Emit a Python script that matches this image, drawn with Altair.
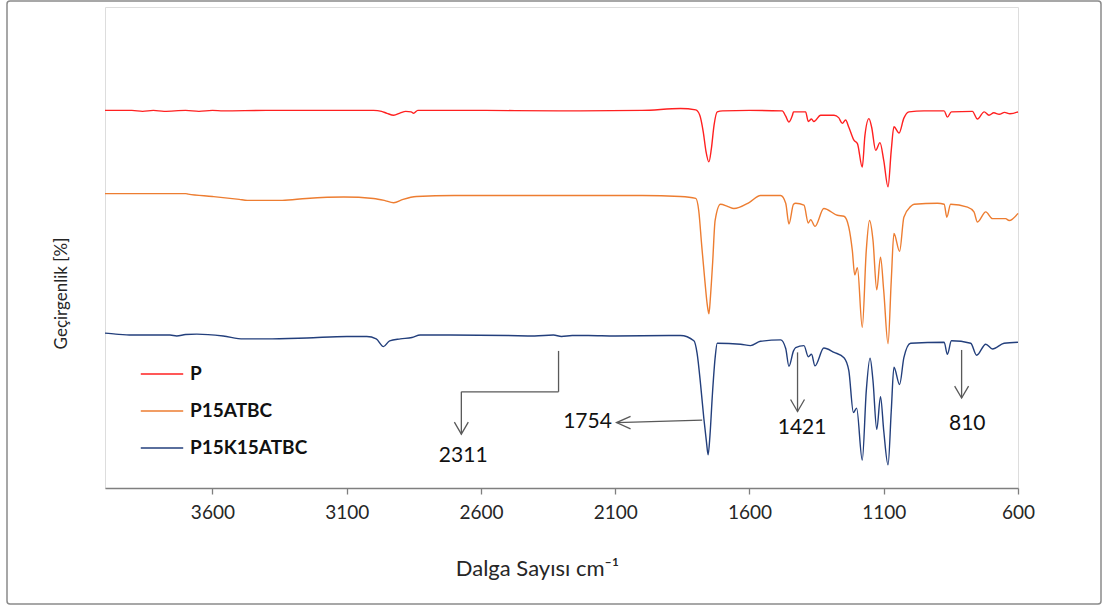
import altair as alt
import pandas as pd

# FTIR spectra (transmittance, vertically offset per sample)
P_WN = [4000, 3900, 3860, 3820, 3780, 3700, 3650, 3600, 3560, 3400, 3000, 2970, 2950, 2925,
        2900, 2880, 2860, 2851, 2835, 2600, 2311, 2000, 1857, 1800, 1785, 1772, 1762, 1751,
        1742, 1732, 1720, 1700, 1600, 1478, 1465, 1453, 1440, 1436, 1391, 1381, 1369, 1360,
        1335, 1285, 1268, 1254, 1242, 1230, 1211, 1198, 1180, 1170, 1155, 1145, 1130, 1114,
        1100, 1084, 1072, 1062, 1043, 1025, 1006, 950, 875, 863, 848, 770, 751, 726, 708,
        690, 670, 650, 630, 600]
P_T = [78.5, 78.5, 78.3, 78.5, 78.3, 78.5, 78.3, 78.5, 78.4, 78.5, 78.5, 78.3, 77.9, 77.5,
       78.0, 78.3, 78.2, 77.9, 78.5, 78.5, 78.4, 78.5, 78.9, 78.6, 77.5, 74.0, 70.0, 67.8,
       70.5, 75.4, 78.2, 78.4, 78.5, 78.4, 77.3, 76.1, 77.5, 78.2, 78.2, 76.2, 76.7, 76.2,
       77.5, 77.5, 77.0, 75.8, 76.5, 75.0, 72.3, 71.6, 66.7, 73.3, 76.8, 75.0, 70.2, 71.8,
       68.1, 62.6, 70.2, 75.1, 73.8, 76.9, 78.2, 78.4, 78.4, 77.1, 78.2, 78.3, 76.7, 78.2,
       77.5, 78.0, 77.7, 78.1, 77.8, 78.2]

A_WN = [4000, 3700, 3690, 3600, 3500, 3470, 3340, 3250, 3110, 3000, 2960, 2925, 2890, 2840,
        2700, 2311, 2000, 1857, 1800, 1789, 1778, 1766, 1757, 1751, 1745, 1737, 1728, 1708,
        1680, 1658, 1600, 1559, 1484, 1465, 1453, 1436, 1428, 1397, 1381, 1372, 1356, 1323,
        1273, 1248, 1230, 1217, 1208, 1198, 1180, 1165, 1153, 1140, 1126, 1112, 1100, 1084,
        1072, 1062, 1041, 1025, 1000, 987, 900, 875, 865, 851, 788, 764, 751, 720, 695, 646,
        633, 600]
A_T = [61.2, 61.2, 61.1, 60.6, 60.0, 59.8, 59.8, 60.2, 60.5, 60.2, 59.8, 59.3, 60.0, 60.6,
       60.8, 60.8, 60.8, 60.6, 60.2, 57.7, 50.5, 43.0, 38.0, 36.2, 40.0, 47.0, 55.6, 59.0,
       58.5, 58.1, 59.4, 60.8, 60.8, 59.2, 54.9, 59.0, 59.2, 58.8, 55.1, 55.8, 54.4, 58.1,
       56.7, 56.5, 54.2, 49.4, 44.3, 45.8, 33.4, 49.4, 55.6, 51.5, 41.2, 48.0, 41.0, 30.0,
       43.1, 52.9, 49.2, 56.3, 58.5, 59.0, 59.2, 59.0, 56.3, 59.0, 58.4, 57.4, 55.3, 57.4,
       56.0, 56.0, 55.6, 57.1]

K_WN = [4000, 3960, 3900, 3758, 3733, 3700, 3658, 3560, 3485, 3400, 3248, 3099, 3025, 2990,
        2963, 2940, 2900, 2857, 2826, 2714, 2500, 2400, 2330, 2300, 2260, 2200, 2100, 1900,
        1857, 1807, 1795, 1782, 1770, 1760, 1754, 1747, 1738, 1728, 1720, 1633, 1596, 1559,
        1484, 1465, 1453, 1436, 1428, 1397, 1381, 1369, 1356, 1323, 1285, 1248, 1230, 1213,
        1201, 1180, 1165, 1151, 1140, 1126, 1112, 1100, 1084, 1072, 1062, 1041, 1025, 1000,
        875, 863, 848, 776, 754, 720, 695, 652, 600]
K_T = [32.2, 32.0, 31.8, 31.8, 31.6, 31.9, 32.0, 31.6, 31.0, 31.0, 31.2, 31.5, 31.5, 31.0,
       29.4, 30.6, 31.0, 31.3, 31.8, 31.8, 31.7, 31.6, 31.8, 31.5, 31.7, 31.7, 31.6, 31.7,
       31.7, 30.6, 28.0, 21.5, 14.5, 9.5, 6.9, 11.0, 19.5, 27.0, 30.1, 29.9, 29.6, 30.5,
       30.8, 29.0, 25.3, 28.5, 29.2, 29.6, 27.3, 27.8, 25.4, 29.1, 28.2, 27.1, 24.4, 15.7,
       16.6, 5.8, 20.2, 27.0, 22.3, 12.2, 19.0, 11.9, 4.8, 16.0, 25.1, 21.5, 27.1, 30.1,
       30.3, 27.8, 30.6, 30.1, 27.6, 29.9, 28.9, 30.1, 30.3]

SERIES = ["P", "P15ATBC", "P15K15ATBC"]
COLORS = ["#ff2020", "#ed7d31", "#233f7c"]

# Band annotations: labelled wavenumber, arrow path (wn, T) and label anchor
BAND_LABELS = ["2311", "1754", "1421", "810"]
BAND_PATH_WN = [[2311, 2311, 2673, 2673], [1776, 2095], [1421, 1421], [810, 810]]
BAND_PATH_T = [[28.5, 20.0, 20.0, 11.2], [14.1, 13.6], [28.2, 15.9], [28.7, 18.7]]
LABEL_WN = [2666, 2203, 1404, 789]
LABEL_T = [6.7, 13.75, 12.4, 13.3]

FONT = "Lato"
GREY = "#7f7f7f"
ARROW = "#595959"

rows = []
for name, wn, t in zip(SERIES, [P_WN, A_WN, K_WN], [P_T, A_T, K_T]):
    for w, v in zip(wn, t):
        rows.append({"seri": name, "wn": w, "T": v})
spec = pd.DataFrame(rows)

seg_rows = []
head_rows = []
for lab, pw, pt in zip(BAND_LABELS, BAND_PATH_WN, BAND_PATH_T):
    for i in range(len(pw) - 1):
        seg_rows.append({"band": lab, "x": pw[i], "x2": pw[i + 1], "y": pt[i], "y2": pt[i + 1]})
    head_rows.append({"band": lab, "x": pw[-1], "y": pt[-1],
                      "dir": "down" if pw[-1] == pw[-2] else "left"})
segs = pd.DataFrame(seg_rows)
heads = pd.DataFrame(head_rows)
labels = pd.DataFrame({"band": BAND_LABELS, "x": LABEL_WN, "y": LABEL_T})

xscale = alt.Scale(domain=[600, 4000], reverse=True, nice=False, zero=False)
yscale = alt.Scale(domain=[0, 100], nice=False, zero=False)

lines = alt.Chart(spec).mark_line(strokeWidth=1.4, interpolate="monotone").encode(
    x=alt.X("wn:Q", scale=xscale, title="Dalga Sayısı cm⁻¹",
            axis=alt.Axis(values=[3600, 3100, 2600, 2100, 1600, 1100, 600], format="d",
                          grid=False, tickSize=6, tickColor=GREY, domainColor=GREY,
                          domainWidth=1.3, tickWidth=1.3, labelFont=FONT, labelFontSize=19,
                          labelColor="#262626", labelPadding=9, labelFlush=False,
                          titleFont=FONT, titleFontSize=22, titleFontWeight="normal",
                          titleColor="#262626", titleX=432, titleY=80,
                          titleBaseline="middle")),
    y=alt.Y("T:Q", scale=yscale, title="Geçirgenlik [%]",
            axis=alt.Axis(domain=False, ticks=False, labels=False, grid=False,
                          titleFont=FONT, titleFontSize=17, titleFontWeight="normal",
                          titleColor="#262626", titleX=-44, titleY=286,
                          titleBaseline="middle")),
    color=alt.Color("seri:N", scale=alt.Scale(domain=SERIES, range=COLORS), title=None,
                    legend=alt.Legend(orient="none", legendX=35, legendY=345,
                                      symbolType="stroke", symbolSize=1800,
                                      symbolStrokeWidth=1.5, labelFont=FONT,
                                      labelFontSize=19, labelFontWeight="bold",
                                      labelColor="#111111", rowPadding=5,
                                      labelOffset=6, padding=0)),
)

arrows = alt.Chart(segs).mark_rule(color=ARROW, strokeWidth=1.3).encode(
    x="x:Q", x2="x2:Q", y="y:Q", y2="y2:Q")

down_heads = alt.Chart(heads[heads["dir"] == "down"]).mark_point(
    shape="M-0.58,-1L0,0L0.58,-1", filled=False, color=ARROW, strokeWidth=1.3,
    size=576, opacity=1).encode(x="x:Q", y="y:Q")
left_heads = alt.Chart(heads[heads["dir"] == "left"]).mark_point(
    shape="M1,-0.45L0,0L1,0.45", filled=False, color=ARROW, strokeWidth=1.3,
    size=784, opacity=1).encode(x="x:Q", y="y:Q")

texts = alt.Chart(labels).mark_text(font=FONT, fontSize=21, color="#111111",
                                    align="center", baseline="middle").encode(
    x="x:Q", y="y:Q", text="band:N")

frame = alt.Chart(pd.DataFrame({"k": [0]})).mark_rect(
    fill=None, fillOpacity=0, stroke="#8a8a8a", strokeWidth=1.5, cornerRadius=3).encode(
    x=alt.value(-98), x2=alt.value(996), y=alt.value(-6), y2=alt.value(597))

chart = alt.layer(frame, lines, arrows, down_heads, left_heads, texts).properties(
    width=913, height=481,
    autosize=alt.AutoSizeParams(type="none"),
    padding={"left": 105, "top": 7, "right": 85, "bottom": 119},
).configure_view(stroke=None).configure(background="white")

chart.save("out.html", embed_options={"renderer": "svg", "actions": False})
